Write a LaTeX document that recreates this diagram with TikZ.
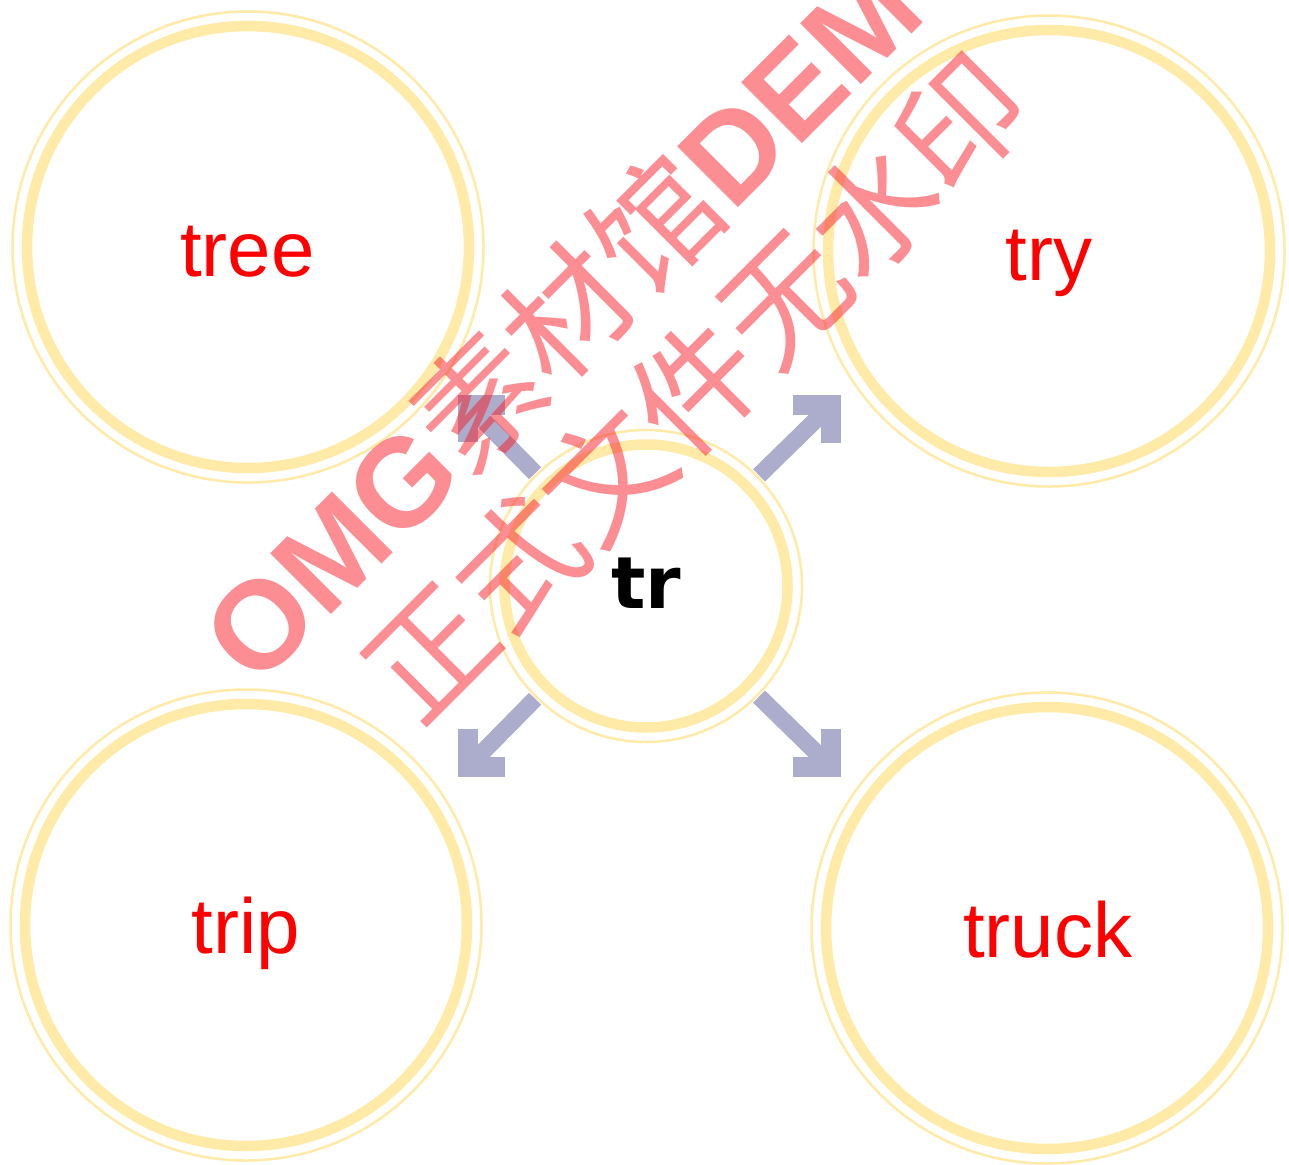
\documentclass[tikz,border=0pt]{standalone}
\usepackage{fontspec}
\setmainfont{Liberation Sans}
\newfontfamily\cjkfont{Noto Sans CJK SC}
\newfontfamily\trfont{DejaVu Sans}
\usetikzlibrary{calc}
\definecolor{ringc}{RGB}{255,234,167}
\definecolor{arrowc}{RGB}{172,172,204}
\definecolor{wmc}{RGB}{249,29,41}
\begin{document}
\begin{tikzpicture}[x=1pt,y=-1pt,
  holder/.style={circle, inner sep=0pt, minimum size=#1, draw=none, fill=white},
  thickring/.style={draw=ringc, line width=10.5pt},
  thinring/.style={draw=ringc, line width=2.5pt},
  word/.style={text=red, font=\fontsize{78}{90}\selectfont, anchor=base, inner sep=0pt},
  rootword/.style={text=black, font=\trfont\bfseries\fontsize{72}{85}\selectfont, anchor=base, inner sep=0pt},
  shaft/.style={draw=arrowc, line width=17pt, line cap=butt},
  head/.style={draw=arrowc, line width=20pt, miter limit=10, line join=miter, line cap=butt},
  wm/.style={text=wmc, text opacity=0.5, rotate=45, anchor=base, inner sep=0pt, font=\fontsize{125}{150}\selectfont}
]
\useasboundingbox (0,0) rectangle (1289,1164);
\fill[white] (0,0) rectangle (1289,1164);

% circles
\node[holder=474pt] (tree)  at (248,247) {};
\node[holder=474pt] (try)   at (1049,251) {};
\node[holder=474pt] (trip)  at (246,925) {};
\node[holder=474pt] (truck) at (1047,928) {};
\node[holder=316pt] (tr)    at (646,586) {};

\foreach \n in {tree,try,trip,truck}{
  \draw[thinring] (\n.center) circle[radius=235.5pt];
  \draw[thickring] (\n.center) circle[radius=221pt];
}
\draw[thinring] (tr.center) circle[radius=156pt];
\draw[thickring] (tr.center) circle[radius=141.5pt];

% arrows
\coordinate (ul) at (468,405);
\coordinate (ur) at (831,405);
\coordinate (ll) at (468,767);
\coordinate (lr) at (831,767);
\draw[shaft] (tr) -- (ul);
\draw[shaft] (tr) -- (ur);
\draw[shaft] (tr) -- (ll);
\draw[shaft] (tr) -- (lr);
\draw[head] (505,405) -- (ul) -- (468,442);
\draw[head] (793,405) -- (ur) -- (831,443);
\draw[head] (505,767) -- (ll) -- (468,729);
\draw[head] (793,767) -- (lr) -- (831,729);

% words
\node[word] (treet)  at (247.5,276) {tree};
\node[word] (tryt)   at (1049,280) {try};
\node[word] (tript)  at (246,953) {trip};
\node[word] (truckt) at (1047.5,957) {truck};
\node[rootword] (trt) at (646.5,608) {tr};

% watermark
\node[wm] (wm1) at (627,319) {\textbf{OMG}{\cjkfont 素材馆}\textbf{DEMO}};
\node[wm] (wm2) at (729,420) {\cjkfont 正式文件无水印};
\end{tikzpicture}
\end{document}
